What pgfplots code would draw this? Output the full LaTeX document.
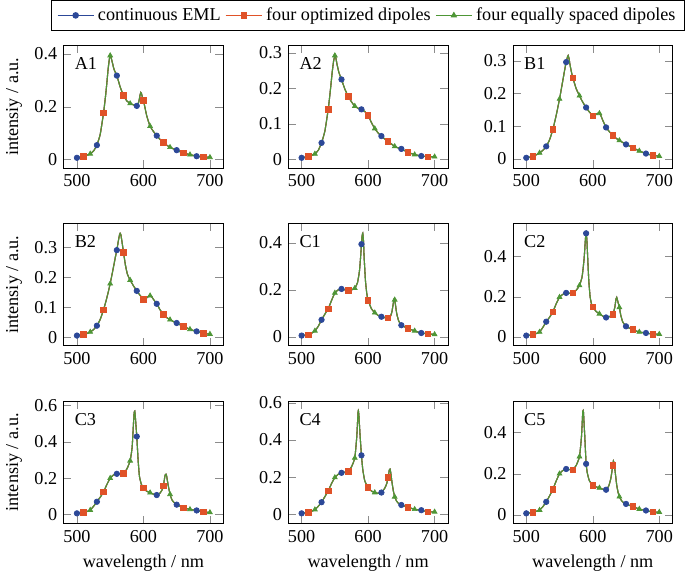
\documentclass[border=0pt]{standalone}
\usepackage{fontspec}
\setmainfont{Liberation Serif}
\usepackage{pgfplots}
\usepackage{pgfplotstable}
\pgfplotsset{compat=1.18}
\usepgfplotslibrary{groupplots}

\definecolor{cblue}{RGB}{44,72,152}
\definecolor{cred}{RGB}{224,82,40}
\definecolor{cgreen}{RGB}{78,150,54}

% x = wavelength, y = intensity, k = marker (1 EML, 2 optimized, 3 equally spaced)
\pgfplotstableread{
x y k
500 0.006 1
505 0.009 0
510 0.012 2
515 0.016 0
520 0.021 3
525 0.032 0
530 0.054 1
535 0.095 0
540 0.176 2
543 0.240 0
545 0.290 0
547 0.345 0
549 0.385 0
550 0.394 3
551 0.390 0
553 0.370 0
556 0.340 0
560 0.318 1
565 0.275 0
570 0.243 2
575 0.222 0
580 0.212 3
585 0.207 0
590 0.203 1
593 0.218 0
595 0.245 0
596 0.254 0
597 0.250 0
598 0.240 0
600 0.224 2
605 0.165 0
610 0.126 3
615 0.106 0
620 0.090 1
625 0.076 0
630 0.064 2
635 0.054 0
640 0.046 3
645 0.040 0
650 0.035 1
655 0.029 0
660 0.024 2
665 0.021 0
670 0.018 3
675 0.015 0
680 0.012 1
685 0.010 0
690 0.009 2
695 0.0085 0
700 0.008 3
}\tAone

\pgfplotstableread{
x y k
500 0.005 1
505 0.007 0
510 0.009 2
515 0.012 0
520 0.016 3
525 0.026 0
530 0.047 1
535 0.080 0
540 0.141 2
543 0.190 0
546 0.245 0
548 0.275 0
550 0.292 3
551 0.290 0
553 0.270 0
556 0.245 0
560 0.225 1
565 0.198 0
570 0.178 2
575 0.162 0
580 0.150 3
585 0.144 0
590 0.141 1
595 0.135 0
600 0.124 2
605 0.104 0
610 0.087 3
615 0.075 0
620 0.066 1
625 0.058 0
630 0.051 2
635 0.044 0
640 0.037 3
645 0.033 0
650 0.030 1
655 0.025 0
660 0.020 2
665 0.017 0
670 0.014 3
675 0.012 0
680 0.010 1
685 0.009 0
690 0.008 2
695 0.008 0
700 0.008 3
}\tAtwo

\pgfplotstableread{
x y k
500 0.003 1
505 0.005 0
510 0.008 2
515 0.012 0
520 0.018 3
525 0.026 0
530 0.038 1
535 0.058 0
540 0.090 2
545 0.133 0
550 0.183 3
555 0.240 0
558 0.275 0
560 0.296 1
562 0.312 0
563 0.316 0
564 0.310 0
566 0.285 0
568 0.265 0
570 0.248 2
575 0.215 0
580 0.193 3
585 0.173 0
590 0.157 1
595 0.143 0
600 0.132 2
603 0.133 0
606 0.138 0
609 0.140 0
610 0.139 3
612 0.133 0
615 0.118 0
620 0.096 1
625 0.083 0
630 0.072 2
635 0.063 0
640 0.056 3
645 0.050 0
650 0.044 1
655 0.039 0
660 0.034 2
665 0.029 0
670 0.024 3
675 0.020 0
680 0.016 1
685 0.013 0
690 0.010 2
695 0.009 0
700 0.008 3
}\tBone

\pgfplotstableread{
x y k
500 0.006 1
505 0.008 0
510 0.010 2
515 0.013 0
520 0.018 3
525 0.026 0
530 0.039 1
535 0.060 0
540 0.092 2
545 0.132 0
550 0.179 3
555 0.235 0
558 0.270 0
560 0.291 1
562 0.318 0
564 0.342 0
565 0.347 0
566 0.343 0
568 0.315 0
570 0.284 2
573 0.240 0
576 0.210 0
580 0.191 3
585 0.172 0
590 0.155 1
595 0.140 0
600 0.127 2
603 0.128 0
606 0.134 0
609 0.139 0
610 0.139 3
612 0.137 0
615 0.127 0
620 0.112 1
625 0.092 0
630 0.076 2
635 0.066 0
640 0.059 3
645 0.053 0
650 0.048 1
655 0.042 0
660 0.037 2
665 0.032 0
670 0.027 3
675 0.023 0
680 0.020 1
685 0.016 0
690 0.013 2
695 0.012 0
700 0.011 3
}\tBtwo

\pgfplotstableread{
x y k
500 0.006 1
505 0.008 0
510 0.010 2
515 0.016 0
520 0.026 3
525 0.045 0
530 0.073 1
535 0.097 0
540 0.120 2
545 0.155 0
550 0.187 3
555 0.200 0
560 0.204 1
565 0.200 0
570 0.197 2
575 0.200 0
580 0.207 3
584 0.230 0
587 0.280 0
589 0.350 0
590 0.394 1
591 0.430 0
592 0.440 0
593 0.410 0
594 0.340 0
596 0.240 0
598 0.185 0
600 0.156 2
605 0.120 0
610 0.103 3
615 0.092 0
620 0.086 1
625 0.082 0
630 0.081 2
634 0.090 0
636 0.110 0
638 0.145 0
639 0.160 0
640 0.158 3
641 0.140 0
643 0.100 0
646 0.068 0
650 0.050 1
655 0.043 0
660 0.036 2
665 0.031 0
670 0.026 3
675 0.021 0
680 0.017 1
685 0.015 0
690 0.013 2
695 0.012 0
700 0.011 3
}\tCone

\pgfplotstableread{
x y k
500 0.007 1
505 0.009 0
510 0.012 2
515 0.017 0
520 0.025 3
525 0.048 0
530 0.076 1
535 0.098 0
540 0.125 2
545 0.165 0
550 0.198 3
555 0.212 0
560 0.219 1
565 0.217 0
570 0.219 2
575 0.232 0
580 0.256 3
584 0.300 0
587 0.390 0
589 0.490 0
590 0.515 1
591 0.490 0
592 0.420 0
594 0.280 0
596 0.200 0
598 0.165 0
600 0.149 2
605 0.127 0
610 0.115 3
615 0.104 0
620 0.097 1
625 0.101 0
630 0.112 2
633 0.145 0
635 0.190 0
636 0.197 0
637 0.185 0
639 0.160 0
640 0.147 3
642 0.110 0
645 0.075 0
650 0.053 1
655 0.044 0
660 0.037 2
665 0.030 0
670 0.025 3
675 0.022 0
680 0.020 1
685 0.017 0
690 0.014 2
695 0.014 0
700 0.014 3
}\tCtwo

\pgfplotstableread{
x y k
500 0.006 1
505 0.008 0
510 0.011 2
515 0.016 0
520 0.024 3
525 0.045 0
530 0.070 1
535 0.095 0
540 0.124 2
545 0.165 0
550 0.200 3
555 0.218 0
560 0.224 1
565 0.224 0
570 0.226 2
575 0.250 0
580 0.296 3
583 0.370 0
585 0.500 0
586 0.560 0
587 0.570 0
588 0.530 0
589 0.480 0
590 0.430 1
592 0.300 0
594 0.210 0
597 0.165 0
600 0.146 2
605 0.128 0
610 0.120 3
615 0.112 0
620 0.107 1
625 0.118 0
628 0.135 0
630 0.157 2
632 0.205 0
633 0.220 0
634 0.222 0
635 0.210 0
637 0.165 0
640 0.111 3
643 0.080 0
646 0.066 0
650 0.054 1
655 0.045 0
660 0.037 2
665 0.032 0
670 0.028 3
675 0.025 0
680 0.022 1
685 0.017 0
690 0.013 2
695 0.012 0
700 0.011 3
}\tCthree

\pgfplotstableread{
x y k
500 0.005 1
505 0.008 0
510 0.011 2
515 0.016 0
520 0.025 3
525 0.043 0
530 0.065 1
535 0.095 0
540 0.126 2
545 0.165 0
550 0.198 3
555 0.215 0
560 0.223 1
565 0.227 0
570 0.231 2
575 0.255 0
580 0.303 3
583 0.420 0
585 0.555 0
586 0.540 0
587 0.480 0
588 0.420 0
590 0.317 1
592 0.240 0
595 0.180 0
600 0.144 2
605 0.125 0
610 0.117 3
615 0.113 0
620 0.117 1
625 0.140 0
628 0.165 0
630 0.198 2
632 0.240 0
633 0.243 0
634 0.225 0
636 0.170 0
638 0.125 0
640 0.094 3
643 0.070 0
646 0.058 0
650 0.050 1
655 0.044 0
660 0.038 2
665 0.032 0
670 0.027 3
675 0.024 0
680 0.022 1
685 0.017 0
690 0.014 2
695 0.013 0
700 0.013 3
}\tCfour

\pgfplotstableread{
x y k
500 0.007 1
505 0.009 0
510 0.012 2
515 0.017 0
520 0.023 3
525 0.040 0
530 0.063 1
535 0.092 0
540 0.124 2
545 0.165 0
550 0.200 3
555 0.216 0
560 0.223 1
565 0.220 0
570 0.220 2
575 0.240 0
580 0.283 3
583 0.380 0
585 0.505 0
586 0.500 0
587 0.440 0
588 0.380 0
590 0.248 1
592 0.200 0
595 0.165 0
600 0.144 2
605 0.136 0
610 0.131 3
615 0.125 0
620 0.122 1
624 0.140 0
627 0.175 0
629 0.215 0
630 0.240 2
631 0.262 0
632 0.255 0
634 0.200 0
636 0.145 0
638 0.110 0
640 0.088 3
643 0.070 0
646 0.060 0
650 0.053 1
655 0.046 0
660 0.040 2
665 0.034 0
670 0.028 3
675 0.024 0
680 0.021 1
685 0.017 0
690 0.013 2
695 0.013 0
700 0.013 3
}\tCfive

\pgfplotsset{
  ln/.style={line width=0.6pt, smooth, tension=0.3},
  mk/.style={only marks, mark size=1.5pt, restrict expr to domain={\thisrow{k}}{#1}},
}

% draws the three series of one panel
\newcommand{\panel}[2]{%
  \addplot[cblue, ln] table[x=x,y=y] {#1};
  \addplot[cred, ln] table[x=x,y=y] {#1};
  \addplot[cgreen, ln] table[x=x,y=y] {#1};
  \addplot[cblue, mark=*, mk={0.5:1.5}] table[x=x,y=y] {#1};
  \addplot[cred, mark=square*, mk={1.5:2.5}] table[x=x,y=y] {#1};
  \addplot[cgreen, mark=triangle*, mk={2.5:3.5}] table[x=x,y=y] {#1};
  \node[anchor=west] at (rel axis cs:0.03,0.85) {#2};
}

\begin{document}
\begin{tikzpicture}
\begin{groupplot}[
  group style={group size=3 by 3, horizontal sep=35.8pt, vertical sep=30.3pt},
  width=87.8pt, height=67.5pt, scale only axis,
  xmin=480, xmax=720, xtick={500,600,700},
  enlarge y limits=0.1,
  tick style={black!45},
  /pgf/number format/assume math mode=true,
  xticklabel={\pgfmathprintnumber{\tick}},
  yticklabel={\pgfmathprintnumber{\tick}},
  tick label style={font=\normalsize},
]
\nextgroupplot[ytick={0,0.2,0.4}, ylabel={intensiy / a.u.}]
\panel{\tAone}{A1}
\nextgroupplot[ytick={0,0.1,0.2,0.3},
  legend style={at={(0.5,1)}, anchor=south, yshift=8pt, draw=black,
    legend columns=-1, /tikz/every even column/.append style={column sep=0.5pt}},
  legend image code/.code={\draw[mark repeat=2,mark phase=2] plot coordinates {(0cm,0cm) (0.35cm,0cm) (0.7cm,0cm)};}]
\addlegendimage{cblue, line width=0.6pt, mark=*, mark size=1.5pt}
\addlegendimage{cred, line width=0.6pt, mark=square*, mark size=1.5pt}
\addlegendimage{cgreen, line width=0.6pt, mark=triangle*, mark size=1.5pt}
\legend{continuous EML, four optimized dipoles, four equally spaced dipoles}
\panel{\tAtwo}{A2}
\nextgroupplot[ytick={0,0.1,0.2,0.3}]
\panel{\tBone}{B1}
\nextgroupplot[ytick={0,0.1,0.2,0.3}, ylabel={intensiy / a.u.}]
\panel{\tBtwo}{B2}
\nextgroupplot[ytick={0,0.2,0.4}]
\panel{\tCone}{C1}
\nextgroupplot[ytick={0,0.2,0.4}]
\panel{\tCtwo}{C2}
\nextgroupplot[ytick={0,0.2,0.4,0.6}, ylabel={intensiy / a.u.}, xlabel={wavelength / nm}]
\panel{\tCthree}{C3}
\nextgroupplot[ytick={0,0.2,0.4,0.6}, xlabel={wavelength / nm}]
\panel{\tCfour}{C4}
\nextgroupplot[ytick={0,0.2,0.4}, xlabel={wavelength / nm}]
\panel{\tCfive}{C5}
\end{groupplot}
\end{tikzpicture}
\end{document}
